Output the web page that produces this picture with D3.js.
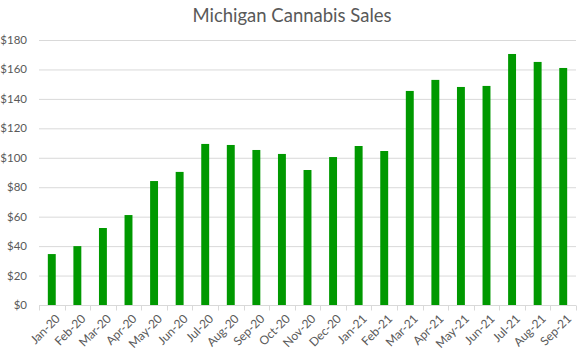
<!DOCTYPE html>
<html>
<head>
<meta charset="utf-8">
<script src="https://cdn.jsdelivr.net/npm/d3@7"></script>
<style>
  html, body { margin: 0; padding: 0; background: #fff; }
  svg { display: block; font-family: Lato, "Open Sans", sans-serif; }
</style>
</head>
<body>
<svg id="chart" width="585" height="350"></svg>
<script>
const title = "Michigan Cannabis Sales";
const months = ["Jan-20","Feb-20","Mar-20","Apr-20","May-20","Jun-20","Jul-20","Aug-20","Sep-20","Oct-20","Nov-20","Dec-20","Jan-21","Feb-21","Mar-21","Apr-21","May-21","Jun-21","Jul-21","Aug-21","Sep-21"];
const sales = [34.6, 40, 52.3, 61.1, 84.2, 90.4, 109.4, 108.7, 105.3, 102.6, 91.7, 100.5, 108, 104.6, 145.4, 152.9, 148.1, 148.8, 170.5, 165.1, 161];
const yTicks = [0, 20, 40, 60, 80, 100, 120, 140, 160, 180];

const svg = d3.select("#chart");
const margin = { left: 39, right: 9, top: 40, bottom: 45 };
const W = 585, H = 350;

const x = d3.scaleBand().domain(months).range([margin.left, W - margin.right]).paddingInner(0.69).paddingOuter(0.345);
const xb = d3.scaleBand().domain(months).range([margin.left, W - margin.right]);
const y = d3.scaleLinear().domain([0, 180]).range([H - margin.bottom, margin.top]);

// gridlines
svg.append("g").selectAll("line").data(yTicks.filter(d => d > 0)).join("line")
  .attr("x1", margin.left).attr("x2", W - margin.right)
  .attr("y1", d => y(d) + 0.5).attr("y2", d => y(d) + 0.5)
  .attr("stroke", "#d9d9d9").attr("stroke-width", 1);

// y labels
svg.append("g").selectAll("text").data(yTicks).join("text")
  .attr("x", 27).attr("y", d => y(d)).attr("dy", "0.35em")
  .attr("text-anchor", "end").attr("fill", "#595959").attr("font-size", 11.5)
  .text(d => "$" + d);

// bars
svg.append("g").selectAll("rect").data(sales).join("rect")
  .attr("x", (d, i) => x(months[i])).attr("width", x.bandwidth())
  .attr("y", d => y(d)).attr("height", d => y(0) - y(d))
  .attr("fill", "#009900");

// x axis line and ticks
const axisY = y(0) + 0.5;
svg.append("line").attr("x1", margin.left).attr("x2", W - margin.right)
  .attr("y1", axisY).attr("y2", axisY).attr("stroke", "#d9d9d9");
const boundaries = months.map(m => xb(m)).concat([W - margin.right]);
svg.append("g").selectAll("line").data(boundaries).join("line")
  .attr("x1", d => Math.round(d) + 0.5).attr("x2", d => Math.round(d) + 0.5)
  .attr("y1", axisY).attr("y2", axisY + 5).attr("stroke", "#d9d9d9");

// x labels
svg.append("g").selectAll("text").data(months).join("text")
  .attr("transform", d => `translate(${x(d) + x.bandwidth() / 2 + 6},${axisY + 11}) rotate(-45)`)
  .attr("text-anchor", "end").attr("dy", "0.35em")
  .attr("fill", "#595959").attr("font-size", 12)
  .text(d => d);

// title
svg.append("text").attr("x", 292).attr("y", 22).attr("text-anchor", "middle")
  .attr("fill", "#595959").attr("font-size", 18.5).text(title);
</script>
</body>
</html>
